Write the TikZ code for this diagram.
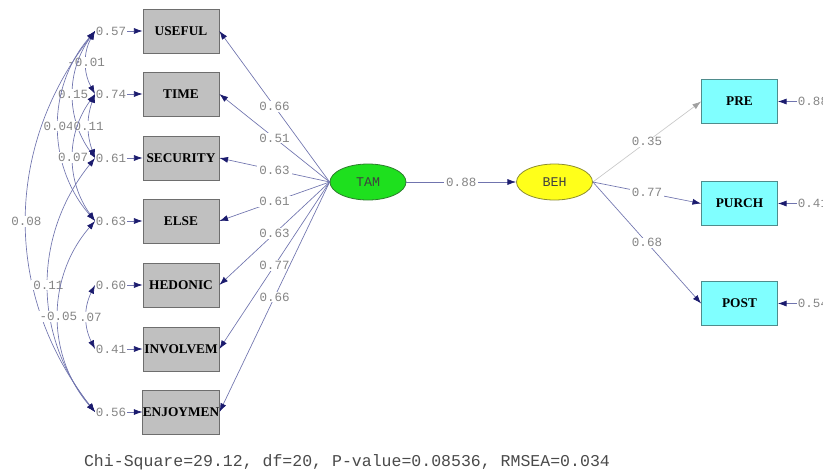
\documentclass[tikz,border=0pt]{standalone}
\usepackage{fontspec}
\usepackage{xcolor}
\usepackage{tikz}
\usetikzlibrary{arrows.meta,shapes.geometric}
\newfontfamily\PathMono{Liberation Mono}
\newfontfamily\BoxSerif{Liberation Serif}
\definecolor{DiagramPath}{HTML}{7074AE}
\definecolor{DiagramTip}{HTML}{1B1B6E}
\definecolor{DiagramCoef}{HTML}{858585}
\definecolor{FaintPath}{HTML}{C8C8C8}
\definecolor{BoxGray}{HTML}{C0C0C0}
\definecolor{BoxEdge}{HTML}{6E6E6E}
\definecolor{BoxCyan}{HTML}{80FFFF}
\definecolor{CyanEdge}{HTML}{4F8C8C}
\definecolor{TamGreen}{HTML}{1EE01E}
\definecolor{TamEdge}{HTML}{2E7D2E}
\definecolor{BehYellow}{HTML}{FFFF1A}
\definecolor{BehEdge}{HTML}{8C8C2E}
\definecolor{FitInk}{HTML}{4A4A4A}
\newcommand{\CoefLabel}{\fontsize{9.4}{10}\selectfont\PathMono}
\newcommand{\BoxLabel}{\fontsize{10}{11}\selectfont\BoxSerif\bfseries}
\newcommand{\LatentLabel}{\fontsize{10}{11}\selectfont\PathMono}
\newcommand{\FitLabel}{\fontsize{12.4}{13}\selectfont\PathMono}
\tikzset{
  indicator box/.style={draw=BoxEdge,fill=BoxGray,line width=0.6pt,minimum width=57pt,
    minimum height=33pt,inner sep=0pt,font=\BoxLabel},
  outcome box/.style={indicator box,draw=CyanEdge,fill=BoxCyan},
  latent node/.style={ellipse,line width=0.6pt,minimum width=57pt,minimum height=27pt,
    inner sep=0pt,font=\LatentLabel,text=black!75},
  path line/.style={draw=DiagramPath,line width=0.5pt,
    -{Latex[length=6.5pt,width=4.5pt,color=DiagramTip]}},
  faint path/.style={draw=FaintPath,line width=0.5pt,
    -{Latex[length=6.5pt,width=4.5pt,color=FaintPath!80!black]}},
  cov line/.style={draw=DiagramPath,line width=0.5pt,
    {Latex[length=6.5pt,width=4.5pt,color=DiagramTip]}-{Latex[length=6.5pt,width=4.5pt,color=DiagramTip]}},
  coef label/.style={fill=white,inner sep=0.6pt,inner xsep=1.5pt,text=DiagramCoef,font=\CoefLabel},
  error label/.style={inner sep=0.5pt,text=DiagramCoef,font=\CoefLabel}
}

\begin{document}
\begin{tikzpicture}[x=0.75pt,y=-0.75pt]
  % pixel grid of the 823 x 475 screenshot, y running down
  \path[use as bounding box] (0,0) rectangle (823,475);

  \def\boxx{181}
  \def\outx{739.5}

  \node[latent node,draw=TamEdge,fill=TamGreen] (TAM) at (368,182) {TAM};
  \node[latent node,draw=BehEdge,fill=BehYellow] (BEH) at (554.5,182) {BEH};

  % indicators of TAM with their error variances
  \foreach \nm/\txt/\yy/\ev/\ld in {U/USEFUL/31/0.57/0.66, T/TIME/94/0.74/0.51,
      S/SECURITY/158/0.61/0.63, E/ELSE/221/0.63/0.61, H/HEDONIC/285/0.60/0.63,
      I/INVOLVEM/349/0.41/0.77, J/ENJOYMEN/412/0.56/0.66}{
    \node[indicator box] (\nm) at (\boxx,\yy) {\txt};
    \node[error label,anchor=east] (e\nm) at (127,\yy) {\ev};
    \draw[path line] (e\nm) -- (\nm);
    \draw[path line] (TAM.west) -- node[coef label] {\ld} (\nm.east);
  }

  % error covariances
  \foreach \a/\b/\bnd/\val in {U/T/29/-0.01, U/S/36/0.15, U/E/41/0.04, T/S/20/0.11,
      T/E/36/0.07, U/J/38/0.08, S/J/39/0.11, H/I/27/0.07, E/J/41/-0.05}{
    \draw[cov line] (e\a.west) to[bend right=\bnd] node[coef label] {\val} (e\b.west);
  }

  \draw[path line] (TAM) -- node[coef label] {0.88} (BEH);

  % indicators of BEH
  \node[outcome box] (P) at (\outx,101.5) {PRE};
  \node[error label,anchor=west] (eP) at (797,101.5) {0.88};
  \draw[path line] (eP) -- (P);
  \draw[faint path] (BEH.east) -- node[coef label] {0.35} (P.west);
  \foreach \nm/\txt/\yy/\ev/\ld in {Q/PURCH/203.5/0.41/0.77, R/POST/303.5/0.54/0.68}{
    \node[outcome box] (\nm) at (\outx,\yy) {\txt};
    \node[error label,anchor=west] (e\nm) at (797,\yy) {\ev};
    \draw[path line] (e\nm) -- (\nm);
    \draw[path line] (BEH.east) -- node[coef label] {\ld} (\nm.west);
  }

  \node[font=\FitLabel,text=FitInk] (fit) at (347,462)
    {Chi-Square=29.12, df=20, P-value=0.08536, RMSEA=0.034};
\end{tikzpicture}
\end{document}
